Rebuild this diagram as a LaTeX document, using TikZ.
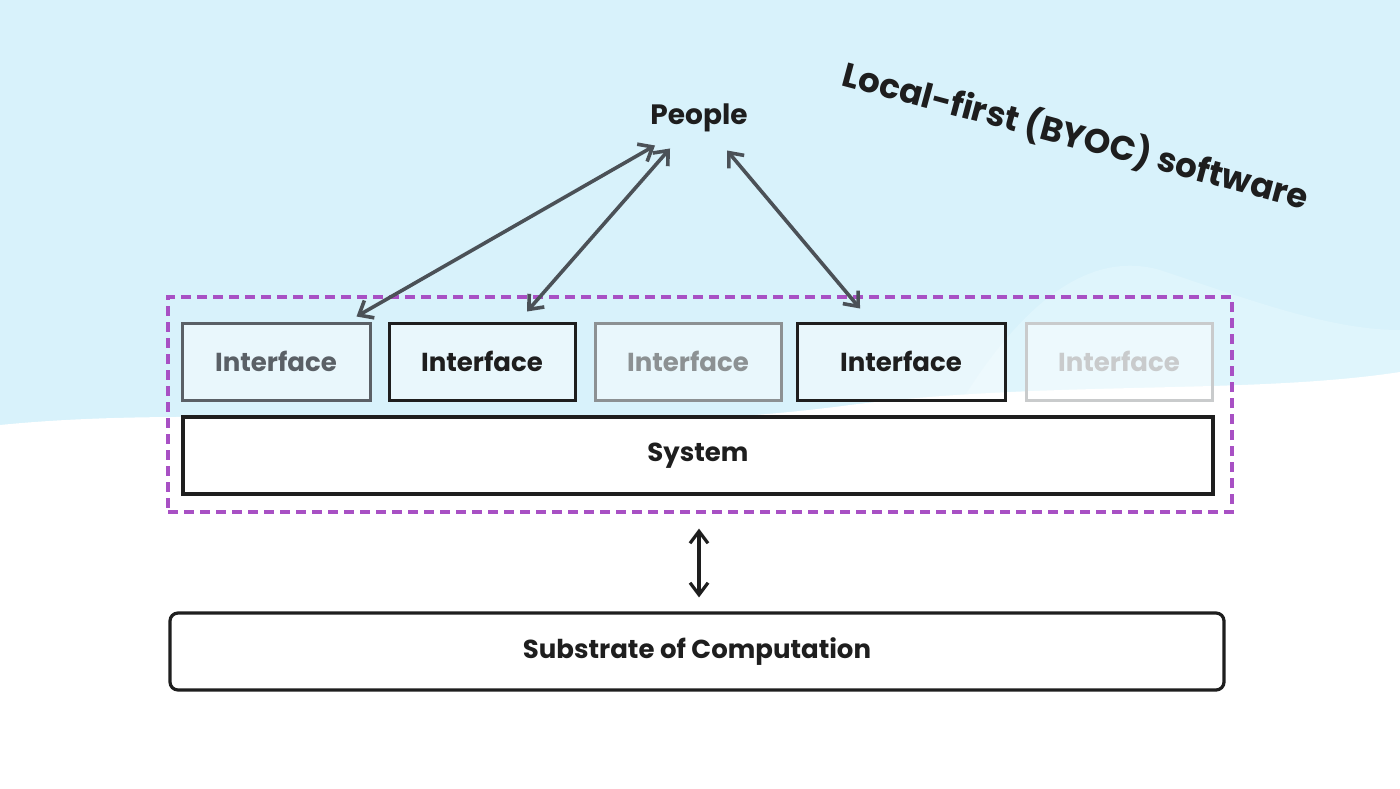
\documentclass[tikz,border=0pt]{standalone}
\usepackage{fontspec}
\setmainfont{Poppins}
\usetikzlibrary{arrows.meta,calc}
\definecolor{sky}{RGB}{216,242,251}
\definecolor{skyhill}{RGB}{223,245,252}
\definecolor{dashpurple}{RGB}{168,80,196}
\definecolor{arrowgray}{RGB}{75,81,87}
\definecolor{inkA}{RGB}{90,96,102}
\definecolor{inkB}{RGB}{30,30,30}
\definecolor{inkC}{RGB}{140,145,147}
\definecolor{inkD}{RGB}{201,203,204}
\tikzset{
  ifbox/.style={draw, line width=1.5pt, minimum height=38.5pt, inner sep=0pt,
    fill=white, fill opacity=0.45, text opacity=1, font=\fontsize{13}{15}\selectfont\bfseries},
  widebox/.style={draw=inkB, line width=1.6pt, minimum height=38.5pt, inner sep=0pt,
    fill=white, text=inkB, font=\fontsize{13}{15}\selectfont\bfseries},
  peoplearrow/.style={draw=arrowgray, line width=1.8pt,
    {Straight Barb[length=6pt,width=10pt]}-{Straight Barb[length=6pt,width=10pt]}},
  blackarrow/.style={draw=inkB, line width=1.6pt,
    {Straight Barb[length=6pt,width=9pt]}-{Straight Barb[length=6pt,width=9pt]}},
  label/.style={inner sep=0pt, text=inkB, font=\fontsize{14}{16}\selectfont\bfseries}
}
\begin{document}
\begin{tikzpicture}[x=0.5pt,y=0.5pt]
\useasboundingbox (0,0) rectangle (1400,-788);
% background
\fill[sky] (0,0) rectangle (1400,-788);
\fill[skyhill] (950,-420) .. controls (1020,-300) and (1090,-250) .. (1160,-270)
  .. controls (1250,-300) and (1330,-330) .. (1400,-330) -- (1400,-420) -- cycle;
\fill[white] (0,-425) .. controls (250,-400) and (550,-445) .. (850,-405)
  .. controls (1050,-380) and (1250,-395) .. (1400,-372) -- (1400,-788) -- (0,-788) -- cycle;
% title
\node[inner sep=0pt, text=inkB, rotate=-15, font=\fontsize{17}{19}\selectfont\bfseries]
  (title) at (1076,-136) {Local-first (BYOC) software};
% people
\node[label] (people) at (699,-118) {People};
% dashed container
\node[draw=dashpurple, line width=1.6pt, dash pattern=on 5pt off 3pt,
  minimum width=532pt, minimum height=107.5pt, inner sep=0pt] (local) at (700,-404.5) {};
% interfaces
\node[ifbox, draw=inkA, text=inkA, minimum width=94pt] (if1) at (276,-361.5) {Interface};
\node[ifbox, draw=inkB, text=inkB, minimum width=93pt] (if2) at (482,-361.5) {Interface};
\node[ifbox, draw=inkC, text=inkC, minimum width=93pt] (if3) at (688,-361.5) {Interface};
\node[ifbox, draw=inkB, text=inkB, minimum width=104pt] (if4) at (901,-361.5) {Interface};
\node[ifbox, draw=inkD, text=inkD, minimum width=93pt] (if5) at (1119,-361.5) {Interface};
% system
\node[widebox, minimum width=515pt] (system) at (698,-455.5) {System};
% substrate
\node[widebox, rounded corners=4pt, minimum width=527pt] (substrate) at (697,-651.5) {Substrate of Computation};
% arrows
\coordinate (pa) at ($(people.south)+(-44,-13)$);
\coordinate (pb) at ($(people.south)+(-29,-16)$);
\coordinate (pc) at ($(people.south)+(28,-18)$);
\coordinate (ia) at ($(if1.north east)+(-15,5)$);
\coordinate (ib) at ($(if2.north)+(45,10)$);
\coordinate (ic) at ($(if4.north)+(-41,13)$);
\draw[peoplearrow] (pa) -- (ia);
\draw[peoplearrow] (pb) -- (ib);
\draw[peoplearrow] (pc) -- (ic);
\coordinate (sa) at ($(local.south)+(-1,-15)$);
\coordinate (sb) at ($(substrate.north)+(2,14)$);
\draw[blackarrow] (sa) -- (sb);
\end{tikzpicture}
\end{document}
